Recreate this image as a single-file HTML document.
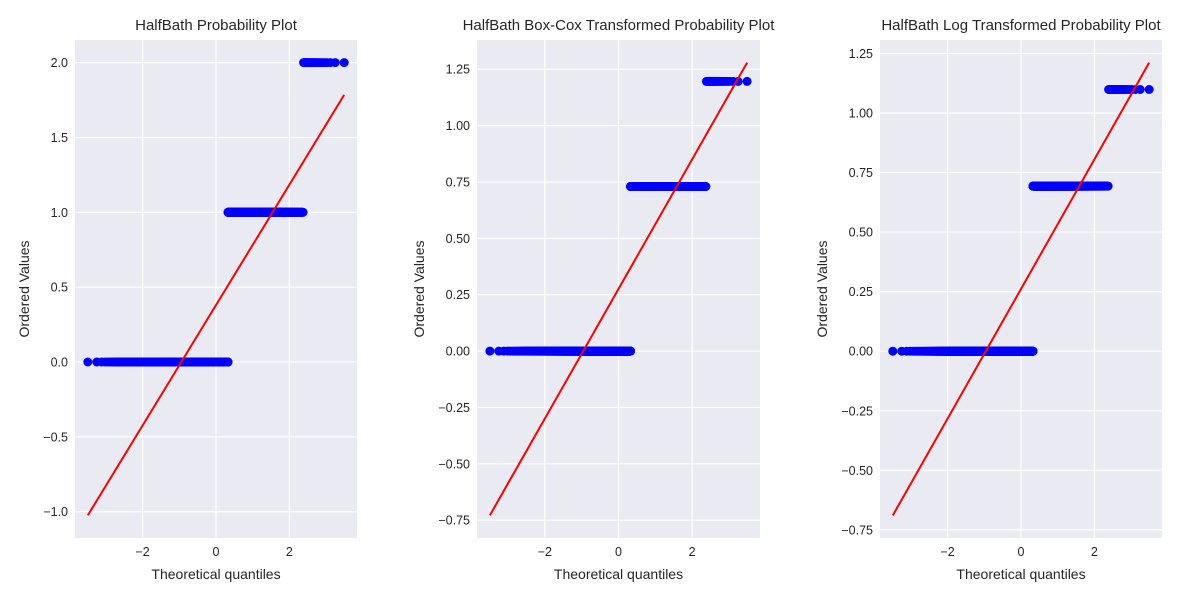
<!DOCTYPE html>
<html><head><meta charset="utf-8">
<style>
body{margin:0;background:#fff;}
svg{display:block;font-family:"Liberation Sans","DejaVu Sans",sans-serif;}
</style></head>
<body>
<svg id="chart" width="1200" height="600" viewBox="0 0 1200 600" xmlns="http://www.w3.org/2000/svg"></svg>
<script>
// Data: HalfBath value levels and their counts (n = 2919)
const halfBathLevels = [0, 1, 2];
const halfBathCounts = [1834, 1060, 25];
const boxCoxLevels = [0, 0.730, 1.196];
const logLevels = [0, 0.6931, 1.0986];
const panelTitles = ["HalfBath Probability Plot", "HalfBath Box-Cox Transformed Probability Plot", "HalfBath Log Transformed Probability Plot"];
const xTickLabels = [-2, 0, 2];
const yTicks1 = [-1.0, -0.5, 0.0, 0.5, 1.0, 1.5, 2.0];
const yTicks2 = [-0.75, -0.5, -0.25, 0, 0.25, 0.5, 0.75, 1.0, 1.25];
const yTicks3 = [-0.75, -0.5, -0.25, 0, 0.25, 0.5, 0.75, 1.0, 1.25];

const NS = "http://www.w3.org/2000/svg";
const svg = document.getElementById("chart");
function mk(tag, attrs, parent){const e=document.createElementNS(NS,tag);for(const k in attrs)e.setAttribute(k,attrs[k]);(parent||svg).appendChild(e);return e;}

function ppf(p){
  const a=[-3.969683028665376e+01,2.209460984245205e+02,-2.759285104469687e+02,1.383577518672690e+02,-3.066479806614716e+01,2.506628277459239e+00];
  const b=[-5.447609879822406e+01,1.615858368580409e+02,-1.556989798598866e+02,6.680131188771972e+01,-1.328068155288572e+01];
  const c=[-7.784894002430293e-03,-3.223964580411365e-01,-2.400758277161838e+00,-2.549671014208932e+00,4.374664141464968e+00,2.938163982698783e+00];
  const d=[7.784695709041462e-03,3.224671290700398e-01,2.445134137142996e+00,3.754408661907416e+00];
  const pl=0.02425;let q,r;
  if(p<pl){q=Math.sqrt(-2*Math.log(p));return (((((c[0]*q+c[1])*q+c[2])*q+c[3])*q+c[4])*q+c[5])/((((d[0]*q+d[1])*q+d[2])*q+d[3])*q+1);}
  if(p>1-pl){q=Math.sqrt(-2*Math.log(1-p));return -(((((c[0]*q+c[1])*q+c[2])*q+c[3])*q+c[4])*q+c[5])/((((d[0]*q+d[1])*q+d[2])*q+d[3])*q+1);}
  q=p-0.5;r=q*q;return (((((a[0]*r+a[1])*r+a[2])*r+a[3])*r+a[4])*r+a[5])*q/(((((b[0]*r+b[1])*r+b[2])*r+b[3])*r+b[4])*r+1);
}

const n = halfBathCounts.reduce((s,v)=>s+v,0);
const theo=[];
for(let i=1;i<=n;i++){
  let m;
  if(i===1) m=1-Math.pow(0.5,1/n);
  else if(i===n) m=Math.pow(0.5,1/n);
  else m=(i-0.3175)/(n+0.365);
  theo.push(ppf(m));
}

function drawPanel(idx, left, right, levels, yTicks, fmt){
  const top=40,bottom=538;
  const g=mk("g",{});
  
  
  // ordered values
  const vals=[];
  levels.forEach((lv,k)=>{for(let j=0;j<halfBathCounts[k];j++)vals.push(lv);});
  // least squares fit
  let mx=0,my=0;for(let i=0;i<n;i++){mx+=theo[i];my+=vals[i];}mx/=n;my/=n;
  let sxy=0,sxx=0;for(let i=0;i<n;i++){sxy+=(theo[i]-mx)*(vals[i]-my);sxx+=(theo[i]-mx)**2;}
  const slope=sxy/sxx,inter=my-slope*mx;
  const x0=theo[0],x1=theo[n-1];
  const lineY0=inter+slope*x0,lineY1=inter+slope*x1;
  const ymin=Math.min(lineY0,levels[0]),ymax=Math.max(lineY1,levels[levels.length-1]);
  const xr=x1-x0,yr=ymax-ymin;
  const xlo=x0-0.05*xr,xhi=x1+0.05*xr,ylo=ymin-0.05*yr,yhi=ymax+0.05*yr;
  const X=v=>left+(v-xlo)/(xhi-xlo)*(right-left);
  const Y=v=>bottom-(v-ylo)/(yhi-ylo)*(bottom-top);
  const bg=mk("rect",{x:left,y:top,width:right-left,height:bottom-top,fill:"#EAEAF2"},g);
  
  
  xTickLabels.forEach(t=>{
    const x=X(t);
    mk("line",{x1:x,x2:x,y1:top,y2:bottom,stroke:"#fff","stroke-width":1.2},g);
    const tx=mk("text",{x:x,y:bottom+18,"text-anchor":"middle","font-size":12.5,fill:"#262626"},g);
    tx.textContent=(t<0?"\u2212":"")+Math.abs(t);
    
    
  });
  yTicks.forEach(t=>{
    const y=Y(t);
    mk("line",{x1:left,x2:right,y1:y,y2:y,stroke:"#fff","stroke-width":1.2},g);
    const s=t.toFixed(fmt);
    const tx=mk("text",{x:left-7,y:y+4.5,"text-anchor":"end","font-size":12.5,fill:"#262626"},g);
    tx.textContent=(t<0?"\u2212":"")+s.replace("-","");
    
    
  });
  const pts=mk("g",{fill:"#0000ff"},g);
  
  
  for(let i=0;i<n;i++){
    mk("circle",{cx:X(theo[i]).toFixed(1),cy:Y(vals[i]).toFixed(1),r:4.5},pts);
  }
  const ln=mk("line",{x1:X(x0),y1:Y(lineY0),x2:X(x1),y2:Y(lineY1),stroke:"#ff0000","stroke-width":2},g);
  
  
  const ti=mk("text",{x:(left+right)/2,y:30,"text-anchor":"middle","font-size":15,fill:"#262626"},g);
  ti.textContent=panelTitles[idx];
  
  
  const xl=mk("text",{x:(left+right)/2,y:579,"text-anchor":"middle","font-size":14,fill:"#262626"},g);
  xl.textContent="Theoretical quantiles";
  
  
  const cy=(top+bottom)/2, cx=left-(fmt===1?46:53);
  const yl=mk("text",{x:cx,y:cy,"text-anchor":"middle","font-size":14,fill:"#262626",transform:`rotate(-90 ${cx} ${cy})`},g);
  yl.textContent="Ordered Values";
  
  
}
drawPanel(0,75,357,halfBathLevels,yTicks1,1);
drawPanel(1,477,760,boxCoxLevels,yTicks2,2);
drawPanel(2,880,1162,logLevels,yTicks3,2);
</script>
</body></html>
